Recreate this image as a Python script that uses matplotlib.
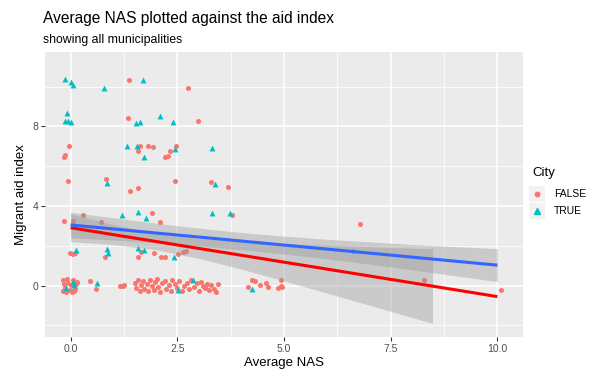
import matplotlib
matplotlib.use("Agg")
import matplotlib.pyplot as plt
from matplotlib.patches import Rectangle
from matplotlib.lines import Line2D

plt.rcParams['font.family'] = ['Liberation Sans', 'DejaVu Sans']

# ---------------- data ----------------
true_x = [-0.12, 0.00, 0.05, 0.78, 1.70, -0.08, -0.13, -0.07, 0.02, 2.10, 1.53, 1.62, 2.41,
          1.31, 1.55, 1.72, 2.45, 0.85, 3.32, 3.38, 3.32, 3.73, 1.20, 1.57, 1.77, 0.12,
          0.86, 0.87, 1.57, 1.72, 2.43, 2.87, 2.52, 4.24, -0.10, 0.05, 0.09, 0.63]
true_y = [10.38, 10.25, 10.08, 9.92, 10.32, 8.69, 8.29, 8.29, 8.21, 8.53, 8.19, 8.23, 8.23,
          7.00, 7.00, 6.47, 6.87, 5.18, 6.93, 5.09, 3.67, 3.64, 3.55, 3.69, 3.42, 1.79,
          1.84, 1.63, 1.88, 1.79, 1.46, 0.29, -0.22, -0.18, -0.13, 0.20, 0.04, 0.12]

false_x = [1.37, 2.75, 2.99, 1.34, -0.04, -0.13, -0.15, 1.62, 1.58, 1.81, 1.92, 2.20, 2.29,
           2.33, 2.46, -0.05, 0.84, 1.38, 1.57, 2.45, 3.28, 3.69, 3.78, 6.77, 6.62, 8.27,
           10.08, -0.15, 0.06, 0.28, 1.90, 2.09, 0.71, -0.02, 0.06, 0.10, 0.80, 1.66, 1.57,
           1.96, 2.12, 2.21, 2.51, 2.63, 2.71,
           -0.18, -0.15, -0.12, -0.17, -0.08, -0.05, -0.02, 0.00, 0.03, 0.06, 0.10, 0.12,
           -0.10, 0.08, 0.14, 0.45, 0.59, 1.16, 1.24, 1.22,
           1.50, 1.53, 1.57, 1.62, 1.66, 1.70, 1.73, 1.78, 1.82, 1.86, 1.90, 1.95, 1.98,
           2.02, 2.05, 2.10, 2.14, 2.20, 2.24, 2.30, 2.35, 2.38, 2.45, 2.50, 2.55, 2.60,
           2.65, 2.72, 2.78, 2.82, 2.90, 2.95, 3.00, 3.05, 3.10, 3.15, 3.20, 3.25, 3.30,
           3.35, 3.40, 3.45,
           4.16, 4.26, 4.31, 4.43, 4.57, 4.63, 4.86, 4.94, 4.96, 4.92]
false_y = [10.32, 9.92, 8.28, 8.43, 7.00, 6.57, 6.48, 7.00, 6.78, 7.02, 6.97, 6.47, 6.53,
           6.75, 7.00, 5.28, 5.36, 4.76, 4.89, 5.26, 5.21, 4.97, 3.54, 3.12, 1.76, 0.27,
           -0.23, 3.25, 3.25, 3.55, 3.67, 3.22, 3.19, 1.63, 1.58, 1.63, 1.46, 1.71, 1.46,
           1.66, 1.46, 1.46, 1.58, 1.71, 1.74,
           0.30, 0.10, -0.10, -0.25, 0.35, 0.15, -0.20, 0.05, -0.30, 0.30, -0.15, 0.10,
           -0.30, -0.28, 0.20, 0.24, -0.17, 0.00, 0.04, -0.03,
           0.15, -0.10, 0.30, -0.25, 0.05, 0.22, -0.15, 0.10, -0.28, 0.28, 0.00, -0.20, 0.18,
           0.33, -0.05, -0.30, 0.12, 0.25, -0.15, 0.05, -0.25, 0.30, 0.10, -0.10, 0.22, -0.28,
           0.00, 0.15, -0.18, 0.28, -0.05, 0.12, -0.25, 0.20, 0.00, -0.12, 0.08, -0.20, 0.02,
           -0.15, -0.30, 0.10,
           -0.05, 0.29, 0.25, 0.04, 0.12, -0.05, -0.13, 0.29, -0.05, 0.00]

fit_x = [0.0, 10.0]
red_fit = [2.91, -0.55]
blue_fit = [3.05, 1.03]

red_band_x = [0, 1, 2, 3, 4, 5, 6, 7, 8, 8.48]
red_band_lo = [2.21, 2.06, 1.81, 1.37, 0.83, 0.24, -0.37, -0.98, -1.60, -1.90]
red_band_hi = [3.61, 3.06, 2.63, 2.37, 2.23, 2.12, 2.03, 1.96, 1.88, 1.86]

blue_band_x = [0, 1, 2, 3, 4, 5, 6, 7, 8, 9, 10]
blue_band_lo = [2.41, 2.29, 2.16, 1.99, 1.81, 1.59, 1.35, 1.08, 0.79, 0.50, 0.20]
blue_band_hi = [3.69, 3.41, 3.14, 2.89, 2.67, 2.49, 2.33, 2.20, 2.07, 1.96, 1.86]

x_ticks = [0.0, 2.5, 5.0, 7.5, 10.0]
x_tick_labels = ["0.0", "2.5", "5.0", "7.5", "10.0"]
y_ticks = [0, 4, 8]
y_tick_labels = ["0", "4", "8"]

RED = "#F8766D"
TEAL = "#00BFC4"

# ---------------- figure ----------------
W, H = 602, 371
fig = plt.figure(figsize=(W / 100, H / 100), dpi=100)
ax = fig.add_axes([45 / W, 1 - 337 / H, (523 - 45) / W, (337 - 52) / H])
ax.set_facecolor("#EBEBEB")
for s in ax.spines.values():
    s.set_visible(False)

ax.set_xlim(-0.6, 10.6)
ax.set_ylim(-2.58, 11.74)

for v in [1.25, 3.75, 6.25, 8.75]:
    ax.axvline(v, color="white", lw=0.55, zorder=0.5)
for v in [-2, 2, 6, 10]:
    ax.axhline(v, color="white", lw=0.55, zorder=0.5)
for v in x_ticks:
    ax.axvline(v, color="white", lw=1.1, zorder=0.6)
for v in y_ticks:
    ax.axhline(v, color="white", lw=1.1, zorder=0.6)

ax.scatter(false_x, false_y, s=13, marker="o", color=RED, linewidths=0, zorder=2)
ax.scatter(true_x, true_y, s=18, marker="^", color=TEAL, linewidths=0, zorder=2)

ax.fill_between(red_band_x, red_band_lo, red_band_hi, color="#999999", alpha=0.4,
                linewidth=0, zorder=3)
ax.plot(fit_x, red_fit, color="#FF0000", lw=2.2, zorder=4, solid_capstyle="butt")
ax.fill_between(blue_band_x, blue_band_lo, blue_band_hi, color="#999999", alpha=0.4,
                linewidth=0, zorder=3)
ax.plot(fit_x, blue_fit, color="#3366FF", lw=2.2, zorder=4, solid_capstyle="butt")

ax.set_xticks(x_ticks)
ax.set_xticklabels(x_tick_labels)
ax.set_yticks(y_ticks)
ax.set_yticklabels(y_tick_labels)
ax.tick_params(axis="both", length=3, width=0.8, color="#333333", labelcolor="#4D4D4D",
               labelsize=7.5, pad=2)
ax.set_xlabel("Average NAS", fontsize=9.5, color="black", labelpad=2)
ax.set_ylabel("Migrant aid index", fontsize=9.5, color="black", labelpad=4)

fig.text(43 / W, 1 - 23 / H, "Average NAS plotted against the aid index", fontsize=11.2,
         color="black", ha="left", va="baseline")
fig.text(43 / W, 1 - 43 / H, "showing all municipalities", fontsize=8.8,
         color="black", ha="left", va="baseline")

# ---------------- legend ----------------
lg = fig.add_axes([0, 0, 1, 1], facecolor="none")
lg.set_xlim(0, W)
lg.set_ylim(H, 0)
lg.axis("off")
lg.text(532, 176, "City", fontsize=9.5, ha="left", va="baseline", color="black")
lg.add_patch(Rectangle((528, 185), 17, 17, facecolor="#F2F2F2", edgecolor="white", lw=0.8))
lg.add_patch(Rectangle((528, 202), 17, 17, facecolor="#F2F2F2", edgecolor="white", lw=0.8))
lg.add_line(Line2D([536.5], [193.5], marker="o", markersize=3.2, color=RED, linestyle="none"))
lg.add_line(Line2D([536.5], [210.5], marker="^", markersize=3.8, color=TEAL, linestyle="none"))
lg.text(554, 197, "FALSE", fontsize=7.5, ha="left", va="baseline", color="black")
lg.text(554, 214, "TRUE", fontsize=7.5, ha="left", va="baseline", color="black")

fig.savefig("out.png", dpi=100)
